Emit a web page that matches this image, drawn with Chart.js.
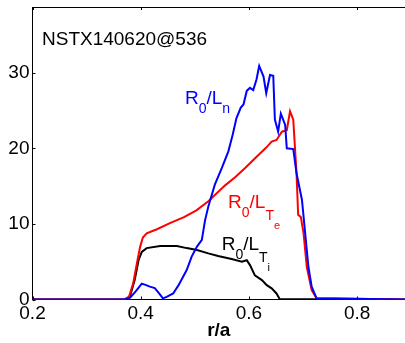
<!DOCTYPE html>
<html><head><meta charset="utf-8">
<script src="https://cdn.jsdelivr.net/npm/chart.js@4"></script>
<style>html,body{margin:0;padding:0;background:#fff}</style>
</head><body>
<canvas id="c" width="405" height="343"></canvas>
<script>
// R0/L_n (blue)
const lnX = [0.2, 0.37, 0.38, 0.39, 0.402, 0.41, 0.417, 0.426, 0.434, 0.441, 0.448, 0.46, 0.47, 0.485, 0.494, 0.504, 0.513, 0.519, 0.525, 0.537, 0.55, 0.562, 0.57, 0.577, 0.585, 0.59, 0.596, 0.602, 0.608, 0.614, 0.619, 0.627, 0.632, 0.639, 0.645, 0.648, 0.654, 0.659, 0.667, 0.670, 0.682, 0.688, 0.698, 0.704, 0.710, 0.716, 0.725, 0.8885];
const lnY = [0, 0, 0.2, 1.0, 2.1, 1.9, 1.7, 1.5, 0.8, 0.15, 0.35, 0.8, 1.9, 3.9, 5.65, 7.0, 7.9, 10.5, 12.3, 15.2, 17.4, 19.6, 21.8, 24.0, 25.4, 25.8, 27.6, 28.0, 27.7, 29.1, 30.9, 29.5, 27.3, 29.7, 29.6, 23.8, 22.2, 24.6, 23.1, 20.0, 19.9, 16.7, 13.2, 8.75, 4.3, 1.7, 0.15, 0];
// R0/L_Te (red)
const teX = [0.2, 0.37, 0.378, 0.386, 0.393, 0.399, 0.404, 0.411, 0.43, 0.454, 0.48, 0.503, 0.525, 0.556, 0.575, 0.593, 0.61, 0.621, 0.632, 0.642, 0.651, 0.661, 0.670, 0.676, 0.682, 0.688, 0.691, 0.696, 0.701, 0.707, 0.716, 0.725, 0.8885];
const teY = [0, 0, 0.3, 2.1, 4.8, 7.0, 8.2, 8.75, 9.3, 10.1, 10.9, 11.8, 13.0, 15.1, 16.2, 17.4, 18.6, 19.35, 20.1, 20.9, 21.1, 22.2, 22.4, 24.9, 23.8, 16.7, 11.2, 10.9, 8.75, 4.3, 1.25, 0.15, 0];
// R0/L_Ti (black)
const tiX = [0.2, 0.37, 0.38, 0.389, 0.396, 0.402, 0.411, 0.436, 0.467, 0.485, 0.504, 0.525, 0.543, 0.568, 0.587, 0.596, 0.602, 0.611, 0.624, 0.633, 0.642, 0.651, 0.657, 0.8885];
const tiY = [0, 0, 0.4, 2.6, 5.2, 6.3, 6.8, 7.07, 7.07, 6.8, 6.55, 6.1, 5.75, 5.35, 5.0, 5.2, 4.55, 3.2, 2.57, 1.9, 1.47, 0.8, 0.05, 0];
// axes
const xTicks = [0.2, 0.4, 0.6, 0.8];
const yTicks = [0, 10, 20, 30];
const xRange = [0.2, 0.8885];
const yRange = [0, 38.7];
const plotTitle = 'NSTX140620@536';
const xTitle = 'r/a';

const FONT = '"Liberation Sans", Arial, Helvetica, sans-serif';
const pts = (xs, ys) => xs.map((x, i) => ({x, y: ys[i]}));

// curve labels: [text, size, baseline shift]
const curveLabels = [
  {parts: [['R',19,0],['0',14,9],['/',19,0],['L',19,0],['n',14,9]], color: '#0000ff', x: 0.4819, y: 25.9},
  {parts: [['R',19,0],['0',14,9],['/',19,0],['L',19,0],['T',14,12],['e',11,21]], color: '#ff0000', x: 0.5614, y: 12.07},
  {parts: [['R',19,0],['0',14,9],['/',19,0],['L',19,0],['T',14,12],['i',11,21]], color: '#000000', x: 0.5497, y: 6.54}
];

const overlay = {
  id: 'overlay',
  afterDraw(chart) {
    const {ctx, chartArea: a, scales: {x, y}} = chart;
    ctx.save();
    ctx.strokeStyle = '#000'; ctx.lineWidth = 1;
    ctx.beginPath();
    ctx.moveTo(a.left, a.top + 0.5); ctx.lineTo(a.right, a.top + 0.5);
    xTicks.forEach(v => {
      const px = Math.round(x.getPixelForValue(v)) + 0.5;
      ctx.moveTo(px, a.bottom); ctx.lineTo(px, a.bottom - 3);
      ctx.moveTo(px, a.top); ctx.lineTo(px, a.top + 3);
    });
    yTicks.forEach(v => {
      const py = Math.round(y.getPixelForValue(v)) + 0.5;
      ctx.moveTo(a.left, py); ctx.lineTo(a.left + 3, py);
    });
    ctx.stroke();
    ctx.fillStyle = '#000';
    ctx.textBaseline = 'alphabetic';
    ctx.font = '19px ' + FONT;
    ctx.fillText(plotTitle, a.left + 9.5, a.top + 38);
    curveLabels.forEach(l => {
      let px = x.getPixelForValue(l.x);
      const py = y.getPixelForValue(l.y);
      ctx.fillStyle = l.color;
      l.parts.forEach(([t, s, dy]) => {
        ctx.font = s + 'px ' + FONT;
        ctx.fillText(t, px, py + dy);
        px += ctx.measureText(t).width;
      });
    });
    ctx.restore();
  }
};

new Chart(document.getElementById('c'), {
  type: 'line',
  data: {
    datasets: [
      {data: pts(lnX, lnY), borderColor: '#0000ff', order: 1},
      {data: pts(teX, teY), borderColor: '#ff0000', order: 2},
      {data: pts(tiX, tiY), borderColor: '#000000', order: 3}
    ]
  },
  options: {
    responsive: false,
    animation: false,
    devicePixelRatio: 1,
    layout: {padding: {left: 0, right: 0, top: 7, bottom: 0}},
    elements: {line: {borderWidth: 2, tension: 0}, point: {radius: 0}},
    plugins: {legend: {display: false}, tooltip: {enabled: false}},
    scales: {
      x: {
        type: 'linear', min: xRange[0], max: xRange[1],
        grid: {display: false, drawTicks: false},
        border: {display: true, color: '#000', width: 1},
        afterBuildTicks: s => { s.ticks = xTicks.map(v => ({value: v})); },
        afterFit: s => { s.height = 43.5; s.paddingLeft = 0; s.paddingRight = 0; },
        ticks: {font: {size: 19, family: FONT}, color: '#000', padding: 3, maxRotation: 0,
                callback: v => v.toFixed(1)},
        title: {display: true, text: xTitle, color: '#000', padding: {top: 0, bottom: 1},
                font: {size: 19, weight: 'bold', family: FONT}}
      },
      y: {
        type: 'linear', min: yRange[0], max: yRange[1],
        grid: {display: false, drawTicks: false},
        border: {display: true, color: '#000', width: 1},
        afterBuildTicks: s => { s.ticks = yTicks.map(v => ({value: v})); },
        afterFit: s => { s.width = 32.5; s.paddingTop = 0; s.paddingBottom = 0; },
        ticks: {font: {size: 19, family: FONT}, color: '#000', padding: 3,
                callback: v => String(v)}
      }
    }
  },
  plugins: [overlay]
});
</script>
</body></html>
